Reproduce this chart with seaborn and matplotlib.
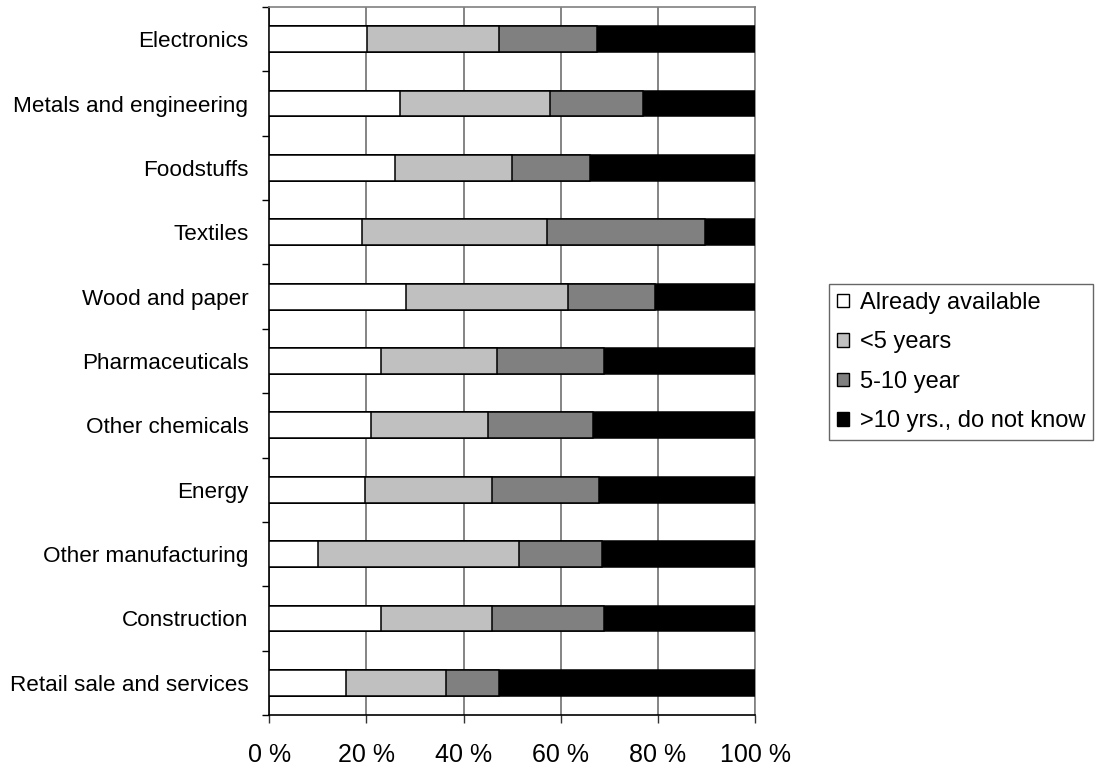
import matplotlib.pyplot as plt
from matplotlib.patches import Patch
import seaborn as sns
import numpy as np
import pandas as pd

sectors = ['Electronics', 'Metals and engineering', 'Foodstuffs', 'Textiles',
           'Wood and paper', 'Pharmaceuticals', 'Other chemicals', 'Energy',
           'Other manufacturing', 'Construction', 'Retail sale and services']
already = [20.2, 26.9, 25.9, 19.0, 28.1, 22.9, 20.9, 19.8, 10.1, 22.9, 15.8]
under_5 = [27.1, 30.9, 24.0, 38.1, 33.5, 24.0, 24.2, 26.0, 41.3, 22.9, 20.6]
five_ten = [20.2, 19.1, 16.1, 32.6, 17.9, 22.1, 21.6, 22.1, 17.2, 23.2, 10.8]
over_10 = [32.5, 23.1, 34.0, 10.3, 20.5, 31.0, 33.3, 32.1, 31.4, 31.0, 52.8]

series = ['Already available', '<5 years', '5-10 year', '>10 yrs., do not know']
colors = ['#FFFFFF', '#C0C0C0', '#808080', '#000000']


def main():
    sns.set_style('ticks')
    plt.rcParams['font.family'] = ['Liberation Sans', 'DejaVu Sans']
    plt.rcParams['text.color'] = 'black'
    plt.rcParams['xtick.labelcolor'] = 'black'
    plt.rcParams['ytick.labelcolor'] = 'black'

    df = pd.DataFrame({'sector': sectors, series[0]: already,
                       series[1]: under_5, series[2]: five_ten,
                       series[3]: over_10})
    cum = df[series].cumsum(axis=1)
    cum['sector'] = df['sector']

    fig = plt.figure(figsize=(10.95, 7.67), dpi=100)
    ax = fig.add_axes([269.3 / 1095, 1 - 715 / 767,
                       (755 - 269.3) / 1095, (715 - 7) / 767])

    # draw the stacks from the longest cumulative bar down
    for name, col in reversed(list(zip(series, colors))):
        sns.barplot(data=cum, x=name, y='sector', orient='h', color=col,
                    width=0.4, edgecolor='black', linewidth=1.1,
                    saturation=1, ax=ax, zorder=3)

    ax.set_xlim(0, 100)
    ax.set_ylim(10.5, -0.5)
    ax.set_xticks(np.arange(0, 101, 20))
    ax.set_xticklabels([f'{v} %' for v in range(0, 101, 20)], fontsize=18,
                       color='black')
    ax.set_yticks(range(len(sectors)))
    ax.set_yticklabels(sectors, fontsize=16.2, color='black')
    ax.set_yticks(np.arange(-0.5, len(sectors), 1), minor=True)
    ax.tick_params(axis='y', which='major', length=0, pad=15)
    ax.tick_params(axis='y', which='minor', length=5, width=1, color='black')
    ax.tick_params(axis='x', length=6, width=1, color='#333333', pad=14)
    ax.set_xlabel('')
    ax.set_ylabel('')

    ax.xaxis.grid(True, color='#707070', linewidth=1.2, zorder=0)
    ax.set_axisbelow(True)
    for side in ['left', 'bottom']:
        ax.spines[side].set_color('black')
        ax.spines[side].set_linewidth(1.2)
    for side in ['top', 'right']:
        ax.spines[side].set_color('#808080')
        ax.spines[side].set_linewidth(1.2)

    handles = [Patch(facecolor=c, edgecolor='black', linewidth=1)
               for c in colors]
    leg = fig.legend(handles, series, loc='center left',
                     bbox_to_anchor=(829 / 1095, 1 - 362 / 767),
                     fontsize=17, frameon=True, fancybox=False,
                     handlelength=0.5, handleheight=0.5, handletextpad=0.45,
                     labelspacing=0.74, borderpad=0.35, borderaxespad=0)
    leg.get_frame().set_edgecolor('#404040')
    leg.get_frame().set_linewidth(1)

    fig.savefig('out.png', dpi=100)


if __name__ == '__main__':
    main()
